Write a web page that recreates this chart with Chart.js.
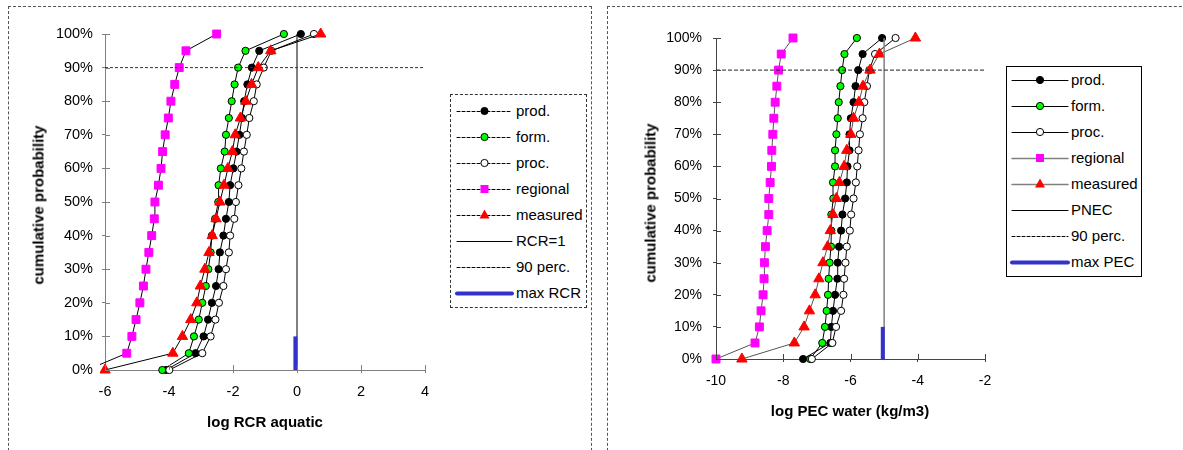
<!DOCTYPE html>
<html><head><meta charset="utf-8">
<script src="https://cdn.jsdelivr.net/npm/chart.js@4/dist/chart.umd.min.js"></script>
<style>
body{margin:0;background:#fff;width:1183px;height:450px;overflow:hidden;position:relative;font-family:"Liberation Sans",Arial,sans-serif;}
.panel{position:absolute;border:1px dashed #555;box-sizing:border-box;}
#p1{left:8px;top:6px;width:584px;height:470px;}
#p2{left:607px;top:6px;width:620px;height:470px;}
canvas{position:absolute;top:0;}
#c1{left:0;}
#c2{left:600px;}
.ttl{position:absolute;font-weight:bold;font-size:15px;color:#000;white-space:nowrap;line-height:1;}
.ytl{transform:translate(-50%,-50%) rotate(-90deg);}
.xtl{transform:translate(-50%,-50%);}
.legend{position:absolute;background:#fff;box-sizing:border-box;}
#lg1{left:450px;top:94px;width:137px;height:214px;border:1px dashed #333;}
#lg2{left:1006px;top:66px;width:136px;height:211px;border:1px solid #000;}
.row{position:absolute;left:0;height:20px;width:100%;}
.row svg{position:absolute;top:0;}
.row span{position:absolute;top:1px;font-size:15px;line-height:18px;color:#000;white-space:nowrap;}
</style>
</head><body>
<div class="panel" id="p1"></div>
<div class="panel" id="p2"></div>
<canvas id="c1" width="600" height="450"></canvas>
<canvas id="c2" width="583" height="450"></canvas>
<div class="ttl ytl" style="left:38px;top:205px;">cumulative probability</div>
<div class="ttl xtl" style="left:265px;top:421px;">log RCR aquatic</div>
<div class="ttl ytl" style="left:650px;top:203px;">cumulative probability</div>
<div class="ttl xtl" style="left:850px;top:410px;">log PEC water (kg/m3)</div>
<div class="legend" id="lg1"></div>
<div class="legend" id="lg2"></div>
<script>
// ---- data ----
const probLevels = [0,5,10,15,20,25,30,35,40,45,50,55,60,65,70,75,80,85,90,95,100];
const seriesNames = ['prod.','form.','proc.','regional','measured'];

// left chart: log RCR aquatic
const rcrProd     = [-4.09,-3.17,-2.92,-2.78,-2.66,-2.53,-2.45,-2.41,-2.30,-2.22,-2.13,-2.09,-1.99,-1.89,-1.80,-1.72,-1.65,-1.55,-1.41,-1.18,0.12];
const rcrForm     = [-4.21,-3.38,-3.22,-3.07,-2.96,-2.85,-2.77,-2.70,-2.66,-2.56,-2.46,-2.45,-2.38,-2.26,-2.22,-2.13,-2.04,-1.95,-1.84,-1.61,-0.41];
const rcrProc     = [-3.99,-2.96,-2.70,-2.55,-2.44,-2.30,-2.22,-2.13,-2.09,-1.96,-1.91,-1.83,-1.74,-1.66,-1.57,-1.49,-1.35,-1.26,-1.04,-0.80,0.53];
const rcrRegional = [-6.56,-5.32,-5.16,-5.03,-4.91,-4.80,-4.72,-4.63,-4.54,-4.46,-4.44,-4.33,-4.25,-4.20,-4.12,-4.02,-3.94,-3.82,-3.68,-3.47,-2.51];
const rcrMeasured = [-6.00,-3.88,-3.58,-3.32,-3.13,-3.02,-2.88,-2.75,-2.65,-2.53,-2.41,-2.28,-2.16,-2.02,-1.93,-1.77,-1.60,-1.42,-1.21,-0.82,0.74];
const rcrOne = 0;          // RCR=1 -> log 0
const maxRcr = -0.05;
const rcrTicks = [-6,-4,-2,0,2,4];

// right chart: log PEC water
const pecProd     = [-7.41,-6.60,-6.57,-6.52,-6.46,-6.39,-6.38,-6.34,-6.28,-6.24,-6.16,-6.11,-6.09,-6.03,-6.03,-5.99,-5.91,-5.85,-5.77,-5.64,-5.06];
const pecForm     = [-7.20,-6.84,-6.76,-6.71,-6.67,-6.65,-6.62,-6.58,-6.57,-6.57,-6.51,-6.52,-6.46,-6.46,-6.42,-6.38,-6.35,-6.30,-6.25,-6.18,-5.81];
const pecProc     = [-7.15,-6.54,-6.43,-6.28,-6.21,-6.19,-6.15,-6.11,-6.02,-5.98,-5.91,-5.84,-5.80,-5.76,-5.72,-5.64,-5.59,-5.51,-5.44,-5.27,-4.66];
const pecRegional = [-10.0,-8.84,-8.71,-8.66,-8.60,-8.57,-8.56,-8.53,-8.48,-8.43,-8.43,-8.39,-8.35,-8.34,-8.31,-8.28,-8.24,-8.19,-8.14,-8.06,-7.71];
const pecMeasured = [-9.23,-7.67,-7.38,-7.22,-7.05,-6.94,-6.82,-6.68,-6.60,-6.52,-6.42,-6.33,-6.19,-6.11,-5.99,-5.91,-5.75,-5.63,-5.42,-5.14,-4.07];
const pnec = -5.0;
const maxPec = -5.04;
const pecTicks = [-10,-8,-6,-4,-2];

const perc90 = 90;
const maxBarTop = 10;
const yTicks = [0,10,20,30,40,50,60,70,80,90,100];

// ---- helpers ----
Chart.defaults.font.family = "'Liberation Sans', Arial, sans-serif";
Chart.defaults.color = '#000';

const pts = xs => xs.map((x,i)=>({x:x,y:probLevels[i]}));
const markerStyles = [
  {pointStyle:'circle',radius:3.6,bg:'#000000',bd:'#000000'},
  {pointStyle:'circle',radius:3.6,bg:'#00FF00',bd:'#000000'},
  {pointStyle:'circle',radius:3.6,bg:'#FFFFFF',bd:'#000000'},
  {pointStyle:'rect',radius:5.6,bg:'#FF00FF',bd:'#FF00FF'},
  {pointStyle:'triangle',radius:6,bg:'#FF0000',bd:'#FF0000'}
];

function seriesDs(xs, idx, lineColor, clip){
  const m = markerStyles[idx];
  return {label:seriesNames[idx], data:pts(xs), showLine:true, borderColor:lineColor, borderWidth:1,
    pointStyle:m.pointStyle, pointRadius:m.radius, pointBackgroundColor:m.bg, pointBorderColor:m.bd,
    pointBorderWidth:1, order:10-idx, clip:clip};
}
function lineDs(label, data, color, width, dash, order){
  return {label:label, data:data, showLine:true, borderColor:color, borderWidth:width, borderDash:dash||[],
    pointRadius:0, order:order, clip:false};
}

const innerTicks = {
  id:'innerTicks',
  afterDraw(chart, args, o){
    const ctx = chart.ctx, xs = chart.scales.x, ys = chart.scales.y, a = chart.chartArea;
    ctx.save(); ctx.strokeStyle = o.color; ctx.lineWidth = 1;
    xs.ticks.forEach(t=>{const p=Math.round(xs.getPixelForValue(t.value))+0.5; ctx.beginPath(); ctx.moveTo(p,a.bottom); ctx.lineTo(p,a.bottom-5); ctx.stroke();});
    ys.ticks.forEach(t=>{const p=Math.round(ys.getPixelForValue(t.value))+0.5; ctx.beginPath(); ctx.moveTo(a.left,p); ctx.lineTo(a.left+5,p); ctx.stroke();});
    ctx.restore();
  }
};

function makeChart(id, datasets, xmin, xmax, xticks, geom){
  return new Chart(document.getElementById(id), {
    type:'scatter',
    data:{datasets:datasets},
    plugins:[innerTicks],
    options:{
      responsive:false, animation:false, events:[],
      layout:{padding:{left:0, top:geom.top, right:geom.right, bottom:0}},
      plugins:{legend:{display:false}, tooltip:{enabled:false}, innerTicks:{color:geom.axisColor}},
      scales:{
        x:{type:'linear', min:xmin, max:xmax,
           afterBuildTicks:s=>{s.ticks = xticks.map(v=>({value:v}));},
           afterFit:s=>{s.height = geom.xh;},
           grid:{display:true, drawOnChartArea:false, drawTicks:true, tickLength:3, color:geom.axisColor},
           border:{display:true, color:geom.axisColor, width:1, dash:geom.dash},
           ticks:{font:{size:geom.fs}, padding:geom.xpad, color:'#000', maxRotation:0}},
        y:{type:'linear', min:0, max:100,
           afterBuildTicks:s=>{s.ticks = yTicks.map(v=>({value:v}));},
           afterFit:s=>{s.width = geom.yw;},
           grid:{display:true, drawOnChartArea:false, drawTicks:true, tickLength:3, color:geom.axisColor},
           border:{display:true, color:geom.axisColor, width:1, dash:geom.dash},
           ticks:{font:{size:geom.fs}, padding:geom.ypad, color:'#000', callback:v=>v+'%'}}
      }
    }
  });
}

const clipL = {left:5, top:20, right:20, bottom:20};
makeChart('c1', [
  seriesDs(rcrProd,0,'#000',clipL),
  seriesDs(rcrForm,1,'#000',clipL),
  seriesDs(rcrProc,2,'#000',clipL),
  seriesDs(rcrRegional,3,'#000',clipL),
  seriesDs(rcrMeasured,4,'#000',clipL),
  lineDs('RCR=1',[{x:rcrOne,y:0},{x:rcrOne,y:100}],'#000',1,[],4),
  lineDs('90 perc.',[{x:rcrTicks[0],y:perc90},{x:rcrTicks[rcrTicks.length-1],y:perc90}],'#333',1,[3,2],3),
  lineDs('max RCR',[{x:maxRcr,y:0},{x:maxRcr,y:maxBarTop}],'#3333CC',4,[],2)
], -6, 4, rcrTicks, {top:34, right:175, xh:80, yw:105, fs:14.5, xpad:10, ypad:9, axisColor:'#808080', dash:[]});

const clipR = {left:10, top:20, right:20, bottom:20};
makeChart('c2', [
  seriesDs(pecProd,0,'#000',clipR),
  seriesDs(pecForm,1,'#000',clipR),
  seriesDs(pecProc,2,'#000',clipR),
  seriesDs(pecRegional,3,'#555',clipR),
  seriesDs(pecMeasured,4,'#555',clipR),
  lineDs('PNEC',[{x:pnec,y:0},{x:pnec,y:100}],'#808080',1.5,[],4),
  lineDs('90 perc.',[{x:pecTicks[0],y:perc90},{x:pecTicks[pecTicks.length-1],y:perc90}],'#222',1,[4,2],3),
  lineDs('max PEC',[{x:maxPec,y:0},{x:maxPec,y:maxBarTop}],'#3333CC',4,[],2)
], -10, -2, pecTicks, {top:38, right:198, xh:91, yw:116, fs:14, xpad:11, ypad:11, axisColor:'#444', dash:[3,2]});

// ---- legends (HTML) ----
function marker(i){
  const m = markerStyles[i];
  if(m.pointStyle==='circle') return `<circle cx="30" cy="10" r="3.6" fill="${m.bg}" stroke="#000" stroke-width="1"/>`;
  if(m.pointStyle==='rect') return `<rect x="26" y="6" width="8" height="8" fill="${m.bg}"/>`;
  return `<polygon points="30,4.5 35,13.5 25,13.5" fill="${m.bg}"/>`;
}
function buildLegend(id, items, top0, x0, x1, tx){
  const el = document.getElementById(id);
  items.forEach((it,k)=>{
    const r = document.createElement('div'); r.className='row'; r.style.top=(top0+k*26-10)+'px';
    const dash = it.dash ? `stroke-dasharray="${it.dash}"` : '';
    r.innerHTML = `<svg width="${x1+4}" height="20" style="left:0"><g transform="translate(${x0},0)">`+
      `<line x1="0" y1="10.5" x2="${x1-x0}" y2="10.5" stroke="${it.color}" stroke-width="${it.w}" ${dash} stroke-linecap="round"/>`+
      `${it.m!==undefined ? '<g transform="translate('+((x1-x0)/2-30)+',0)">'+marker(it.m)+'</g>' : ''}</g></svg>`+
      `<span style="left:${tx}px">${it.label}</span>`;
    el.appendChild(r);
  });
}
buildLegend('lg1', [
  {label:seriesNames[0], color:'#000', w:1, dash:'3,2', m:0},
  {label:seriesNames[1], color:'#000', w:1, dash:'3,2', m:1},
  {label:seriesNames[2], color:'#000', w:1, dash:'3,2', m:2},
  {label:seriesNames[3], color:'#000', w:1, dash:'3,2', m:3},
  {label:seriesNames[4], color:'#000', w:1, dash:'3,2', m:4},
  {label:'RCR=1', color:'#000', w:1},
  {label:'90 perc.', color:'#000', w:1, dash:'3,2'},
  {label:'max RCR', color:'#3333CC', w:4}
], 16, 6, 61, 65);
buildLegend('lg2', [
  {label:seriesNames[0], color:'#000', w:1, m:0},
  {label:seriesNames[1], color:'#000', w:1, m:1},
  {label:seriesNames[2], color:'#000', w:1, m:2},
  {label:seriesNames[3], color:'#808080', w:1.5, m:3},
  {label:seriesNames[4], color:'#808080', w:1.5, m:4},
  {label:'PNEC', color:'#000', w:1},
  {label:'90 perc.', color:'#000', w:1, dash:'3,2'},
  {label:'max PEC', color:'#3333CC', w:4}
], 13, 5, 61, 64);
</script>
</body></html>
